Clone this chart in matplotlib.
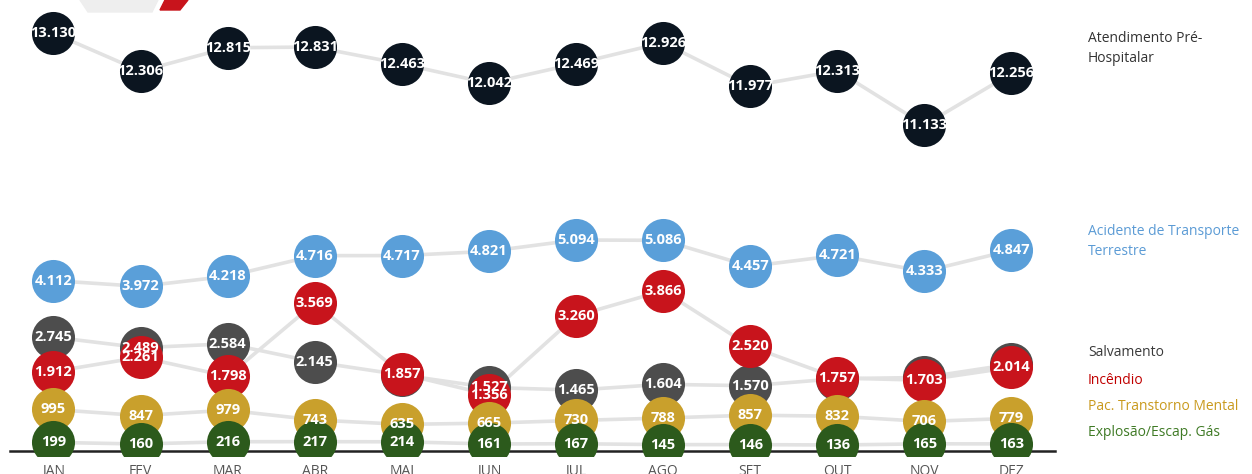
import numpy as np
import matplotlib
matplotlib.use("Agg")
import matplotlib.pyplot as plt
from matplotlib.patches import Polygon

##### data #####
meses = ["JAN", "FEV", "MAR", "ABR", "MAI", "JUN", "JUL", "AGO", "SET", "OUT", "NOV", "DEZ"]

atendimento = [13130, 12306, 12815, 12831, 12463, 12042, 12469, 12926, 11977, 12313, 11133, 12256]
acidente = [4112, 3972, 4218, 4716, 4717, 4821, 5094, 5086, 4457, 4721, 4333, 4847]
# MAI, OUT, NOV, DEZ ficam escondidos atras do incendio (estimados)
salvamento = [2745, 2489, 2584, 2145, 1830, 1527, 1465, 1604, 1570, 1740, 1770, 2090]
incendio = [1912, 2261, 1798, 3569, 1857, 1356, 3260, 3866, 2520, 1757, 1703, 2014]
transtorno = [995, 847, 979, 743, 635, 665, 730, 788, 857, 832, 706, 779]
explosao = [199, 160, 216, 217, 214, 161, 167, 145, 146, 136, 165, 163]

series = [
    ("Atendimento Pré-\nHospitalar", atendimento, "#0b1520", "#333333"),
    ("Acidente de Transporte\nTerrestre", acidente, "#5a9fd9", "#5b9bd5"),
    ("Salvamento", salvamento, "#4d4d4d", "#3a3a3a"),
    ("Incêndio", incendio, "#c8141c", "#c00000"),
    ("Pac. Transtorno Mental", transtorno, "#c9a02c", "#c99a1e"),
    ("Explosão/Escap. Gás", explosao, "#2c5a1c", "#3f7a25"),
]
legend_y = [31, 224, 353, 380, 407, 432]

##### broken y scale (gap between 5k and 11k) #####
xp = [-10000, 6000, 10000, 30000]
fp = [-10000, 6000, 6616, 6616 + 20000 * 1.111]

def fwd(v):
    return np.interp(v, xp, fp)

def inv(v):
    return np.interp(v, fp, xp)

W, H = 1252, 474
fig = plt.figure(figsize=(W / 100, H / 100), dpi=100)
ax_h = 456
ax = fig.add_axes([0, (H - ax_h) / H, 1, ax_h / H])
ax.set_yscale("function", functions=(fwd, inv))

px_per_unit = 0.04135
top_f = 5094 + 240 / px_per_unit
bot_f = 5094 - (ax_h - 240) / px_per_unit
ax.set_ylim(inv(bot_f), inv(top_f))
ux = 11 / 958
ax.set_xlim(-53.5 * ux, (W - 53.5) * ux)

x = np.arange(len(meses))

for nome, vals, cor, cor_txt in series:
    ax.plot(x, vals, color="#e2e2e2", lw=2.6, zorder=1, solid_capstyle="round")

for k, (nome, vals, cor, cor_txt) in enumerate(series):
    ax.scatter(x, vals, s=31 ** 2, color=cor, zorder=2 + k, linewidths=0)
    for i, v in enumerate(vals):
        # rotulo escondido quando outra serie (desenhada depois) cai no mesmo lugar
        hidden = any(abs(s[1][i] - v) < 120 for s in series[k + 1:])
        if hidden:
            continue
        lbl = f"{v:,}".replace(",", ".")
        ax.text(x[i], v, lbl, ha="center", va="center", color="white",
                fontsize=10.5, fontweight="bold", family="Open Sans", zorder=20)

ax.plot([-0.5, 11.5], [0, 0], color="#222222", lw=1.8, zorder=1.5)

ax.set_xticks(x)
ax.set_xticklabels(meses, color="#555555", fontsize=10, family="Open Sans")
ax.tick_params(axis="x", length=0, pad=6)
ax.set_yticks([])
for s in ax.spines.values():
    s.set_visible(False)

# legenda a direita
tx = 1088 / W
for (nome, vals, cor, cor_txt), ly in zip(series, legend_y):
    if "\n" in nome:
        fig.text(tx, 1 - ly / H, nome, color=cor_txt, fontsize=10, family="Open Sans",
                 va="top", ha="left", linespacing=1.45)
    else:
        fig.text(tx, 1 - ly / H, nome, color=cor_txt, fontsize=10, family="Open Sans",
                 va="center", ha="left")

# decoracao no topo
fig.patches.append(Polygon([[165 / W, 1], [188 / W, 1], [180 / W, 1 - 10 / H], [160 / W, 1 - 10 / H]],
                           closed=True, transform=fig.transFigure, color="#c8141c"))
fig.patches.append(Polygon([[80 / W, 1], [158 / W, 1], [152 / W, 1 - 12 / H], [88 / W, 1 - 12 / H]],
                           closed=True, transform=fig.transFigure, color="#eeeeee"))

fig.savefig("out.png", dpi=100)
